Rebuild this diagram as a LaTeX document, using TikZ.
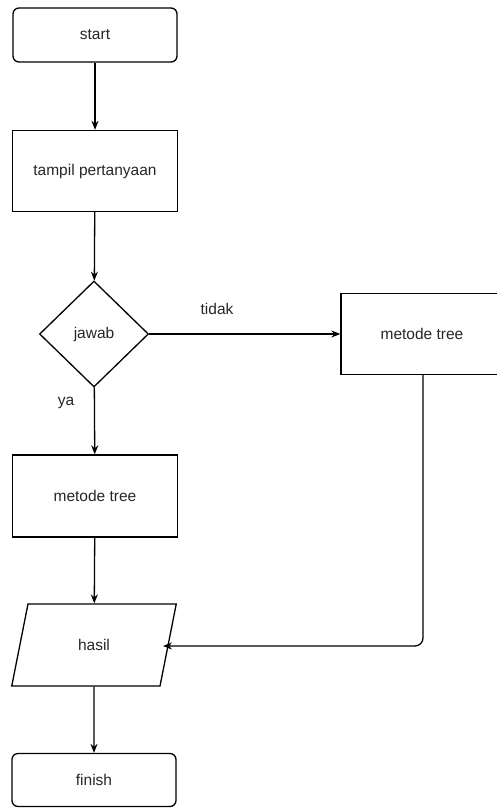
\documentclass[tikz,border=0pt]{standalone}
\usepackage{fontspec}
\setmainfont{Liberation Sans}
\usetikzlibrary{arrows.meta,shapes.geometric}
\begin{document}
\begin{tikzpicture}[x=1pt,y=-1pt,
  every node/.style={font=\fontsize{15.5}{18}\selectfont, text=black!85},
  box/.style={draw, line width=1.3pt, minimum width=165pt, minimum height=81pt, inner sep=0pt},
  term/.style={draw, line width=1.3pt, rounded corners=6pt, minimum width=164pt, minimum height=54pt, inner sep=0pt},
  decide/.style={draw, line width=1.3pt, diamond, minimum width=109pt, minimum height=106pt, inner sep=0pt},
  io/.style={draw, line width=1.3pt, trapezium, trapezium left angle=71, trapezium right angle=109, minimum width=165pt, minimum height=82pt, trapezium stretches=true, inner sep=0pt},
  flow/.style={draw, line width=1.3pt, -{Stealth[length=9pt,width=7pt]}},
  lbl/.style={font=\fontsize{15.5}{18}\selectfont}
]
\useasboundingbox (0,0) rectangle (497,808);
\node[term] (start) at (95,35) {start};
\node[box] (show) at (95,171) {tampil pertanyaan};
\node[decide] (ask) at (94,334) {jawab};
% the right-hand box runs off the edge of the page
\node[box, minimum width=200pt] (treeR) at (441,334) {};
\node (treeRtext) at (422,334) {metode tree};
\coordinate (treeRout) at (423,375);
\node[box, minimum height=82pt] (treeL) at (95,496) {metode tree};
\node[io] (out) at (94,645) {hasil};
\node[term, minimum height=53pt] (finish) at (94,780) {finish};

\node[lbl] (no) at (217,309) {tidak};
\node[lbl] (yes) at (66,403) {ya};

\draw[flow] (start) -- (show);
\draw[flow] (show) -- (ask);
\draw[flow] (ask) -- (treeR);
\draw[flow] (ask) -- (treeL);
\draw[flow] (treeL) -- (out);
\draw[flow, rounded corners=8pt] (treeRout) |- (163,646);
\draw[flow] (out) -- (finish);
\end{tikzpicture}
\end{document}
